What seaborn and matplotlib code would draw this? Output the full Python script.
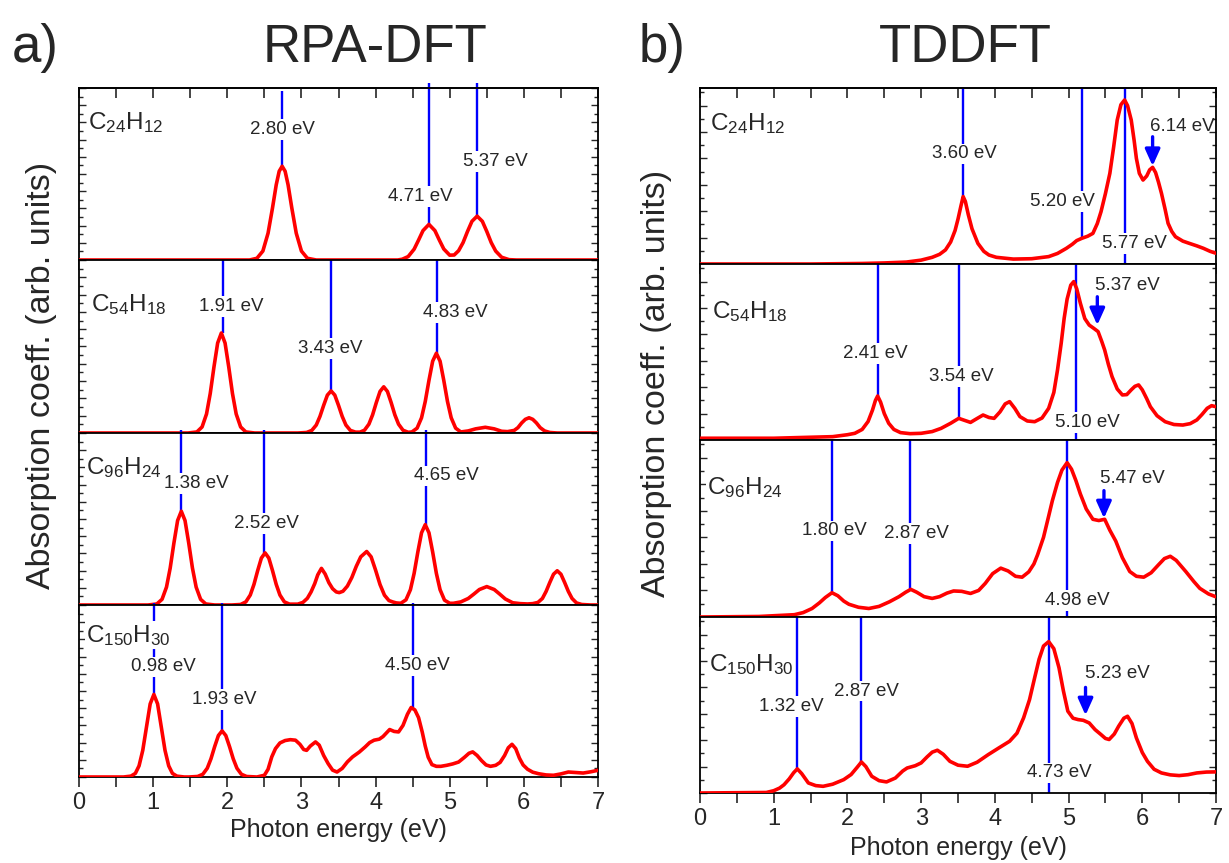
import matplotlib
matplotlib.use("Agg")
import matplotlib.pyplot as plt
import seaborn as sns
from matplotlib.ticker import MultipleLocator

# ---------------- data ----------------
# y values: absorption in % of panel height (arb. units)

rpa_c24_e = [0.0, 2.30, 2.40, 2.48, 2.55, 2.61, 2.66, 2.70, 2.74, 2.78,
             2.82, 2.87, 2.93, 3.00, 3.08, 3.20, 4.30, 4.36, 4.44, 4.52,
             4.58, 4.64, 4.72, 4.80, 4.86, 4.92, 5.00, 5.06, 5.12, 5.18,
             5.24, 5.30, 5.37, 5.44, 5.50, 5.56, 5.62, 5.70, 5.80, 5.90,
             7.00]
rpa_c24_a = [0, 0, 1.0, 5.2, 15.6, 30.3, 43.7, 51.6, 54.5, 51.6,
             43.7, 30.3, 15.6, 5.2, 1.0, 0, 0, 0.45, 2.0, 6.3,
             11.6, 17.1, 20.7, 17.1, 11.6, 6.4, 2.8, 2.9, 5.4, 10.1,
             16.6, 22.5, 25.5, 22.5, 16.6, 10.1, 5.2, 1.6, 0.2, 0,
             0]

rpa_c54_e = [0.0, 1.47, 1.59, 1.66, 1.72, 1.77, 1.82, 1.87, 1.92, 1.97,
             2.02, 2.07, 2.12, 2.18, 2.25, 2.37, 2.95, 3.07, 3.14, 3.20,
             3.25, 3.30, 3.35, 3.40, 3.45, 3.50, 3.55, 3.60, 3.66, 3.73,
             3.79, 3.85, 3.91, 3.96, 4.01, 4.06, 4.11, 4.16, 4.21, 4.26,
             4.31, 4.37, 4.44, 4.49, 4.56, 4.62, 4.67, 4.72, 4.77, 4.82,
             4.87, 4.92, 4.97, 5.02, 5.08, 5.15, 5.25, 5.35, 5.48, 5.60,
             5.70, 5.78, 5.87, 5.92, 5.97, 6.02, 6.07, 6.12, 6.17, 6.22,
             6.28, 6.35, 6.45, 7.00]
rpa_c54_a = [0, 0, 0.6, 3.5, 11.0, 22.8, 38.1, 52.0, 57.8, 52.0,
             38.1, 22.8, 11.0, 3.5, 0.6, 0, 0, 0.3, 1.5, 4.6,
             9.6, 16.0, 21.9, 24.3, 21.9, 16.0, 9.6, 4.6, 1.5, 0.5,
             0.5, 1.6, 5.1, 10.5, 17.6, 24.0, 26.7, 24.0, 17.6, 10.5,
             5.1, 1.6, 0.4, 0.6, 2.8, 8.8, 18.2, 30.4, 41.5, 46.1,
             41.5, 30.4, 18.2, 8.8, 2.8, 0.6, 1.2, 2.4, 3.3, 2.4,
             1.0, 0.8, 1.5, 3.1, 5.8, 7.9, 8.8, 7.9, 5.8, 3.1,
             1.2, 0.3, 0, 0]

rpa_c96_e = [0.0, 0.93, 1.05, 1.12, 1.18, 1.23, 1.28, 1.33, 1.38, 1.43,
             1.48, 1.53, 1.58, 1.64, 1.71, 1.83, 2.06, 2.18, 2.25, 2.31,
             2.36, 2.41, 2.46, 2.51, 2.56, 2.61, 2.66, 2.71, 2.77, 2.84,
             2.95, 3.02, 3.08, 3.13, 3.18, 3.22, 3.27, 3.32, 3.37, 3.42,
             3.47, 3.51, 3.56, 3.62, 3.68, 3.74, 3.80, 3.88, 3.94, 4.00,
             4.06, 4.12, 4.18, 4.23, 4.28, 4.34, 4.41, 4.47, 4.52, 4.57,
             4.62, 4.67, 4.72, 4.77, 4.82, 4.87, 4.93, 5.00, 5.05, 5.15,
             5.25, 5.33, 5.40, 5.50, 5.60, 5.67, 5.75, 5.85, 5.95, 6.05,
             6.12, 6.19, 6.25, 6.30, 6.35, 6.40, 6.45, 6.50, 6.55, 6.60,
             6.65, 6.71, 6.78, 6.90, 7.00]
rpa_c96_a = [0, 0, 0.6, 3.3, 10.4, 21.5, 36.0, 49.1, 54.5, 49.1,
             36.0, 21.5, 10.4, 3.3, 0.6, 0, 0, 0.3, 1.8, 5.8,
             12.0, 20.0, 27.3, 30.3, 27.3, 20.0, 12.0, 5.8, 1.8, 0.5,
             0.5, 1.5, 3.9, 7.6, 12.5, 17.5, 21.3, 18.0, 13.0, 9.5,
             7.6, 7.2, 8.0, 11.0, 16.0, 22.5, 28.0, 31.1, 28.0, 20.3,
             11.9, 5.7, 2.6, 1.8, 1.2, 1.0, 3.0, 8.9, 18.4, 30.8,
             42.0, 46.7, 42.0, 30.8, 18.4, 8.9, 2.8, 1.0, 1.0, 1.8,
             3.8, 6.5, 9.0, 10.7, 9.0, 6.5, 3.5, 1.3, 0.8, 0.6,
             0.8, 1.5, 3.8, 7.9, 13.1, 17.9, 19.9, 17.9, 13.1, 7.9,
             3.8, 1.2, 0.3, 0, 0]

rpa_c150_e = [0.0, 0.60, 0.70, 0.76, 0.81, 0.86, 0.91, 0.96, 1.01, 1.06,
              1.11, 1.16, 1.21, 1.26, 1.32, 1.42, 1.48, 1.60, 1.67, 1.73,
              1.78, 1.83, 1.88, 1.93, 1.98, 2.03, 2.08, 2.13, 2.19, 2.26,
              2.40, 2.50, 2.55, 2.60, 2.65, 2.71, 2.78, 2.85, 2.92, 2.98,
              3.03, 3.07, 3.12, 3.19, 3.24, 3.30, 3.36, 3.42, 3.48, 3.55,
              3.62, 3.69, 3.78, 3.86, 3.92, 3.98, 4.05, 4.10, 4.19, 4.25,
              4.31, 4.37, 4.43, 4.48, 4.53, 4.58, 4.63, 4.67, 4.71, 4.76,
              4.82, 4.88, 4.96, 5.04, 5.12, 5.20, 5.26, 5.31, 5.37, 5.43,
              5.49, 5.55, 5.62, 5.68, 5.74, 5.79, 5.84, 5.89, 5.94, 5.99,
              6.05, 6.12, 6.20, 6.30, 6.40, 6.50, 6.60, 6.70, 6.80, 6.90,
              7.00]
rpa_c150_a = [0, 0, 0.5, 2.1, 6.5, 15.5, 29.0, 42.5, 48.0, 42.5,
              29.0, 15.5, 6.5, 2.1, 0.5, 0, 0, 0.3, 1.6, 5.1,
              10.6, 17.7, 24.1, 26.8, 24.1, 17.7, 10.6, 5.1, 1.6, 0.3,
              0, 1.0, 4.5, 11.7, 16.5, 19.8, 21.2, 21.7, 21.4, 19.0,
              16.0, 15.5, 18.0, 20.4, 18.5, 12.5, 7.8, 4.0, 2.9, 5.0,
              8.8, 11.7, 14.5, 17.5, 20.0, 21.4, 22.0, 23.5, 27.6, 26.5,
              26.2, 30.0, 36.5, 40.4, 39.0, 34.5, 26.0, 18.0, 11.5, 7.2,
              6.2, 6.2, 6.8, 7.6, 8.7, 11.5, 13.8, 14.6, 12.5, 9.5,
              7.0, 6.2, 6.8, 8.5, 12.5, 17.0, 19.0, 16.5, 11.0, 7.0,
              4.5, 2.8, 1.9, 1.2, 1.0, 1.8, 2.9, 2.6, 2.3, 3.0,
              3.9]

td_c24_e = [0.0, 1.50, 2.20, 2.50, 2.80, 3.00, 3.15, 3.25, 3.33, 3.40,
            3.46, 3.50, 3.54, 3.57, 3.60, 3.64, 3.69, 3.77, 3.85, 3.92,
            4.02, 4.25, 4.50, 4.73, 4.85, 4.97, 5.05, 5.11, 5.18, 5.26,
            5.33, 5.39, 5.44, 5.50, 5.56, 5.61, 5.66, 5.71, 5.76, 5.80,
            5.85, 5.89, 5.92, 5.96, 6.01, 6.06, 6.10, 6.14, 6.18, 6.22,
            6.26, 6.31, 6.35, 6.40, 6.45, 6.55, 6.64, 6.74, 6.83, 6.92,
            7.00]
td_c24_a = [0, 0, 0.3, 0.6, 1.1, 2.2, 3.8, 5.5, 8.0, 12.5,
            19.0, 25.5, 33.0, 38.3, 35.5, 28.0, 20.0, 11.7, 7.2, 5.1,
            3.8, 2.8, 3.0, 4.2, 6.0, 8.9, 11.2, 13.3, 14.6, 15.8,
            17.4, 23.0, 29.7, 40.0, 51.5, 66.0, 81.8, 90.5, 93.2, 90.0,
            81.8, 70.0, 60.0, 51.5, 47.7, 50.0, 53.5, 54.9, 52.0, 46.5,
            40.2, 31.0, 23.1, 18.5, 15.5, 13.0, 11.7, 10.3, 8.9, 7.2,
            6.1]

td_c54_e = [0.0, 1.00, 1.80, 2.00, 2.10, 2.20, 2.28, 2.34, 2.38, 2.41,
            2.45, 2.50, 2.56, 2.63, 2.72, 2.85, 3.00, 3.15, 3.27, 3.40,
            3.51, 3.60, 3.67, 3.75, 3.84, 3.92, 3.99, 4.07, 4.14, 4.20,
            4.27, 4.34, 4.44, 4.54, 4.64, 4.73, 4.80, 4.85, 4.90, 4.94,
            4.98, 5.03, 5.07, 5.11, 5.16, 5.22, 5.28, 5.34, 5.40, 5.45,
            5.49, 5.54, 5.59, 5.66, 5.73, 5.79, 5.85, 5.90, 5.95, 6.00,
            6.06, 6.11, 6.20, 6.31, 6.43, 6.55, 6.65, 6.74, 6.81, 6.88,
            6.94, 7.00]
td_c54_a = [1.0, 1.0, 1.9, 3.0, 3.8, 6.0, 10.5, 17.0, 22.5, 25.0,
            21.5, 15.0, 9.5, 6.0, 4.2, 3.6, 3.8, 4.8, 6.6, 9.5,
            12.3, 11.0, 10.0, 12.0, 14.2, 12.8, 12.3, 16.0, 20.5, 21.8,
            18.0, 13.3, 10.8, 10.4, 12.5, 18.0, 27.0, 39.8, 55.0, 69.1,
            80.0, 88.0, 90.0, 86.0, 77.7, 69.0, 65.3, 63.5, 61.6, 56.0,
            51.1, 43.0, 36.0, 29.0, 25.6, 25.8, 28.5, 30.5, 31.3, 28.5,
            23.5, 18.9, 13.8, 10.4, 8.8, 8.5, 9.3, 11.4, 14.5, 18.0,
            19.5, 18.9]

td_c96_e = [0.0, 0.80, 1.28, 1.40, 1.52, 1.62, 1.70, 1.79, 1.87, 1.95,
            2.02, 2.15, 2.29, 2.43, 2.57, 2.70, 2.79, 2.86, 2.94, 3.04,
            3.15, 3.25, 3.35, 3.44, 3.55, 3.67, 3.78, 3.87, 3.97, 4.08,
            4.18, 4.28, 4.37, 4.46, 4.53, 4.58, 4.66, 4.73, 4.78, 4.85,
            4.91, 4.98, 5.04, 5.10, 5.16, 5.24, 5.33, 5.41, 5.49, 5.56,
            5.64, 5.73, 5.83, 5.92, 6.02, 6.12, 6.22, 6.30, 6.38, 6.46,
            6.59, 6.70, 6.78, 6.90, 7.00]
td_c96_a = [0, 0.3, 1.3, 2.5, 4.8, 8.0, 11.0, 13.7, 12.0, 9.0,
            7.2, 5.5, 4.8, 6.0, 8.6, 11.5, 14.0, 15.6, 14.0, 11.5,
            10.5, 11.5, 13.5, 14.7, 14.5, 13.3, 15.0, 19.0, 24.5, 27.6,
            26.0, 23.0, 22.5, 25.5, 30.0, 35.2, 45.0, 57.0, 65.7, 76.0,
            83.0, 87.2, 83.5, 77.0, 69.5, 61.0, 55.2, 54.5, 55.2, 49.0,
            42.9, 33.5, 25.7, 23.0, 22.5, 25.0, 29.5, 33.0, 34.3, 32.0,
            25.7, 20.0, 16.2, 13.0, 11.4]

td_c150_e = [0.0, 0.90, 1.00, 1.08, 1.14, 1.21, 1.27, 1.32, 1.38, 1.47,
             1.57, 1.67, 1.80, 1.95, 2.05, 2.13, 2.19, 2.25, 2.33, 2.43,
             2.53, 2.65, 2.75, 2.81, 2.92, 3.00, 3.08, 3.15, 3.22, 3.30,
             3.39, 3.50, 3.63, 3.76, 3.91, 4.05, 4.20, 4.30, 4.39, 4.47,
             4.54, 4.60, 4.66, 4.73, 4.80, 4.87, 4.93, 4.99, 5.06, 5.13,
             5.20, 5.28, 5.36, 5.44, 5.50, 5.55, 5.62, 5.68, 5.75, 5.80,
             5.86, 5.92, 6.00, 6.07, 6.16, 6.26, 6.38, 6.50, 6.62, 6.74,
             6.87, 7.00]
td_c150_a = [0, 0.3, 1.3, 2.8, 4.7, 8.0, 11.5, 13.7, 11.0, 5.7,
             4.2, 3.8, 5.0, 7.6, 10.5, 14.5, 17.6, 15.0, 9.5, 7.0,
             6.3, 8.5, 12.5, 14.2, 15.5, 17.1, 20.5, 23.2, 24.3, 22.0,
             18.0, 15.8, 15.2, 17.5, 21.8, 25.5, 29.4, 34.0, 42.7, 53.0,
             65.5, 76.0, 83.5, 86.0, 82.0, 71.2, 58.0, 46.5, 42.5, 41.7,
             41.3, 39.8, 36.0, 33.2, 31.0, 30.4, 33.5, 38.0, 42.5, 43.6,
             39.5, 31.3, 23.0, 18.0, 13.5, 11.4, 10.3, 9.9, 10.4, 11.4,
             11.9, 12.0]

# molecule names
molecules = [r"C$_{24}$H$_{12}$", r"C$_{54}$H$_{18}$", r"C$_{96}$H$_{24}$", r"C$_{150}$H$_{30}$"]

# marked transitions: line position (eV), line lower end, line upper end, label text, label position
rpa_c24_lines = [2.74, 4.72, 5.37]
rpa_c24_low = [54.5, 20.7, 25.5]
rpa_c24_high = [98, 103, 103]
rpa_c24_text = ["2.80 eV", "4.71 eV", "5.37 eV"]
rpa_c24_tx = [2.74, 4.60, 5.62]
rpa_c24_ty = [75.8, 37.0, 57.4]

rpa_c54_lines = [1.94, 3.40, 4.83]
rpa_c54_low = [57.8, 24.3, 46.1]
rpa_c54_high = [100, 100, 100]
rpa_c54_text = ["1.91 eV", "3.43 eV", "4.83 eV"]
rpa_c54_tx = [2.06, 3.39, 5.08]
rpa_c54_ty = [73.0, 49.0, 69.8]

rpa_c96_lines = [1.38, 2.49, 4.68]
rpa_c96_low = [54.5, 30.3, 46.7]
rpa_c96_high = [102, 102, 102]
rpa_c96_text = ["1.38 eV", "2.52 eV", "4.65 eV"]
rpa_c96_tx = [1.58, 2.53, 4.95]
rpa_c96_ty = [70.7, 47.3, 75.0]

rpa_c150_lines = [1.01, 1.93, 4.51]
rpa_c150_low = [48.0, 26.8, 40.4]
rpa_c150_high = [101, 101, 101]
rpa_c150_text = ["0.98 eV", "1.93 eV", "4.50 eV"]
rpa_c150_tx = [1.14, 1.96, 4.57]
rpa_c150_ty = [64.0, 45.0, 65.0]

td_c24_lines = [3.57, 5.18, 5.77]
td_c24_low = [38.3, 14.6, 0]
td_c24_high = [100, 100, 100]
td_c24_text = ["3.60 eV", "5.20 eV", "5.77 eV"]
td_c24_tx = [3.58, 4.92, 5.90]
td_c24_ty = [62.5, 35.4, 11.7]

td_c54_lines = [2.41, 3.51, 5.10]
td_c54_low = [25.0, 12.3, 0]
td_c54_high = [100, 100, 100]
td_c54_text = ["2.41 eV", "3.54 eV", "5.10 eV"]
td_c54_tx = [2.38, 3.54, 5.26]
td_c54_ty = [49.2, 36.0, 9.8]

td_c96_lines = [1.79, 2.85, 4.98]
td_c96_low = [13.7, 15.6, 0]
td_c96_high = [100, 100, 100]
td_c96_text = ["1.80 eV", "2.87 eV", "4.98 eV"]
td_c96_tx = [1.82, 2.94, 5.12]
td_c96_ty = [48.6, 47.0, 9.5]

td_c150_lines = [1.32, 2.19, 4.73]
td_c150_low = [13.7, 17.6, 0]
td_c150_high = [100, 100, 100]
td_c150_text = ["1.32 eV", "2.87 eV", "4.73 eV"]
td_c150_tx = [1.24, 2.26, 4.87]
td_c150_ty = [49.3, 57.9, 11.4]

# TDDFT shoulders marked by arrows: x, arrow start, arrow end, label, label x, label y
td_arrow_x = [6.14, 5.39, 5.48, 5.23]
td_arrow_from = [72.3, 81.4, 71.4, 60.0]
td_arrow_to = [55.7, 65.3, 55.8, 44.2]
td_arrow_text = ["6.14 eV", "5.37 eV", "5.47 eV", "5.23 eV"]
td_arrow_tx = [6.54, 5.80, 5.86, 5.66]
td_arrow_ty = [78.0, 88.0, 78.5, 67.7]

rpa_formula_xy = [(0.12, 80.0), (0.16, 74.0), (0.10, 80.0), (0.10, 82.5)]
td_formula_xy = [(0.13, 80.0), (0.16, 73.0), (0.10, 73.0), (0.12, 73.0)]

# ---------------- style ----------------
sns.set_style("ticks")
FONT = "Liberation Sans"
plt.rcParams["font.family"] = [FONT, "DejaVu Sans"]
plt.rcParams["mathtext.fontset"] = "custom"
plt.rcParams["mathtext.rm"] = FONT
plt.rcParams["mathtext.it"] = FONT + ":italic"
plt.rcParams["mathtext.bf"] = FONT + ":bold"
plt.rcParams["mathtext.default"] = "regular"

RED = "#ff0000"
BLUE = "#0000ff"

W, H = 1229, 863
fig = plt.figure(figsize=(W / 100, H / 100), dpi=100)


def add_ax(x0, x1, y0, y1):
    return fig.add_axes([x0 / W, 1 - y1 / H, (x1 - x0) / W, (y1 - y0) / H])


def style_ax(ax, is_top, is_bottom, ystep):
    ax.set_xlim(0, 7)
    ax.set_ylim(0, 100)
    for s in ax.spines.values():
        s.set_linewidth(1.3)
        s.set_color("black")
        s.set_visible(True)
    ax.xaxis.set_major_locator(MultipleLocator(1))
    ax.xaxis.set_minor_locator(MultipleLocator(0.5))
    ax.tick_params(axis="x", which="both", direction="out", bottom=True, top=False,
                   length=7, width=1.2, labelbottom=is_bottom, labelsize=17, pad=4)
    ax.yaxis.set_major_locator(MultipleLocator(ystep * 2))
    ax.yaxis.set_minor_locator(MultipleLocator(ystep))
    ax.tick_params(axis="y", which="both", direction="in", left=True, right=True,
                   labelleft=False, width=1.0)
    ax.tick_params(axis="y", which="major", length=5)
    ax.tick_params(axis="y", which="minor", length=3)
    ax.set_xlabel("")
    ax.set_ylabel("")
    if is_top:
        sec = ax.secondary_xaxis("top")
        sec.xaxis.set_major_locator(MultipleLocator(0.5))
        sec.tick_params(axis="x", direction="in", length=7, width=1.2, labeltop=False)
        sec.spines["top"].set_linewidth(1.3)


def draw_panel(ax, energy, absorb, formula, fxy, lx, llow, lhigh, ltext, ltx, lty):
    sns.lineplot(x=energy, y=absorb, ax=ax, color=RED, linewidth=2.6,
                 estimator=None, sort=False, zorder=3)
    for x, lo, hi in zip(lx, llow, lhigh):
        ax.plot([x, x], [lo, hi], color=BLUE, lw=1.7, zorder=2, clip_on=False,
                solid_capstyle="butt")
    for t, x, y in zip(ltext, ltx, lty):
        ax.text(x, y, t, ha="center", va="center", fontsize=13.5, zorder=4,
                bbox=dict(boxstyle="square,pad=0.1", fc="white", ec="none"))
    ax.text(fxy[0], fxy[1], formula, ha="left", va="center", fontsize=17.5, zorder=4,
            bbox=dict(boxstyle="square,pad=0.05", fc="white", ec="none"))


left_b = [88, 260, 433, 605, 777]
right_b = [88, 264, 440, 617, 793]

rpa_sets = [
    (rpa_c24_e, rpa_c24_a, rpa_c24_lines, rpa_c24_low, rpa_c24_high, rpa_c24_text, rpa_c24_tx, rpa_c24_ty),
    (rpa_c54_e, rpa_c54_a, rpa_c54_lines, rpa_c54_low, rpa_c54_high, rpa_c54_text, rpa_c54_tx, rpa_c54_ty),
    (rpa_c96_e, rpa_c96_a, rpa_c96_lines, rpa_c96_low, rpa_c96_high, rpa_c96_text, rpa_c96_tx, rpa_c96_ty),
    (rpa_c150_e, rpa_c150_a, rpa_c150_lines, rpa_c150_low, rpa_c150_high, rpa_c150_text, rpa_c150_tx, rpa_c150_ty),
]
td_sets = [
    (td_c24_e, td_c24_a, td_c24_lines, td_c24_low, td_c24_high, td_c24_text, td_c24_tx, td_c24_ty),
    (td_c54_e, td_c54_a, td_c54_lines, td_c54_low, td_c54_high, td_c54_text, td_c54_tx, td_c54_ty),
    (td_c96_e, td_c96_a, td_c96_lines, td_c96_low, td_c96_high, td_c96_text, td_c96_tx, td_c96_ty),
    (td_c150_e, td_c150_a, td_c150_lines, td_c150_low, td_c150_high, td_c150_text, td_c150_tx, td_c150_ty),
]

for i in range(4):
    ax = add_ax(79, 598, left_b[i], left_b[i + 1])
    e, a, lx, lo, hi, tt, tx, ty = rpa_sets[i]
    draw_panel(ax, e, a, molecules[i], rpa_formula_xy[i], lx, lo, hi, tt, tx, ty)
    style_ax(ax, i == 0, i == 3, 5)

    ax = add_ax(700, 1216, right_b[i], right_b[i + 1])
    e, a, lx, lo, hi, tt, tx, ty = td_sets[i]
    draw_panel(ax, e, a, molecules[i], td_formula_xy[i], lx, lo, hi, tt, tx, ty)
    ax.annotate("", xy=(td_arrow_x[i], td_arrow_to[i]), xytext=(td_arrow_x[i], td_arrow_from[i]),
                arrowprops=dict(arrowstyle="-|>,head_width=0.45,head_length=1.0",
                                color=BLUE, lw=2.4, shrinkA=0, shrinkB=0), zorder=5)
    ax.text(td_arrow_tx[i], td_arrow_ty[i], td_arrow_text[i], ha="center", va="center",
            fontsize=13.5, zorder=4)
    style_ax(ax, i == 0, i == 3, 7.5)

# column titles and panel letters
fig.text(35 / W, 1 - 48 / H, "a)", fontsize=38, ha="center", va="center")
fig.text(375 / W, 1 - 48 / H, "RPA-DFT", fontsize=38, ha="center", va="center")
fig.text(662 / W, 1 - 48 / H, "b)", fontsize=38, ha="center", va="center")
fig.text(965 / W, 1 - 48 / H, "TDDFT", fontsize=38, ha="center", va="center")

# axis labels
fig.text(338 / W, 1 - 830 / H, "Photon energy (eV)", fontsize=18, ha="center", va="center")
fig.text(958 / W, 1 - 848 / H, "Photon energy (eV)", fontsize=18, ha="center", va="center")
fig.text(42 / W, 1 - 375 / H, "Absorption coeff. (arb. units)", fontsize=24.5,
         rotation=90, ha="center", va="center")
fig.text(656 / W, 1 - 383 / H, "Absorption coeff. (arb. units)", fontsize=24.5,
         rotation=90, ha="center", va="center")

fig.savefig("out.png", dpi=100)
